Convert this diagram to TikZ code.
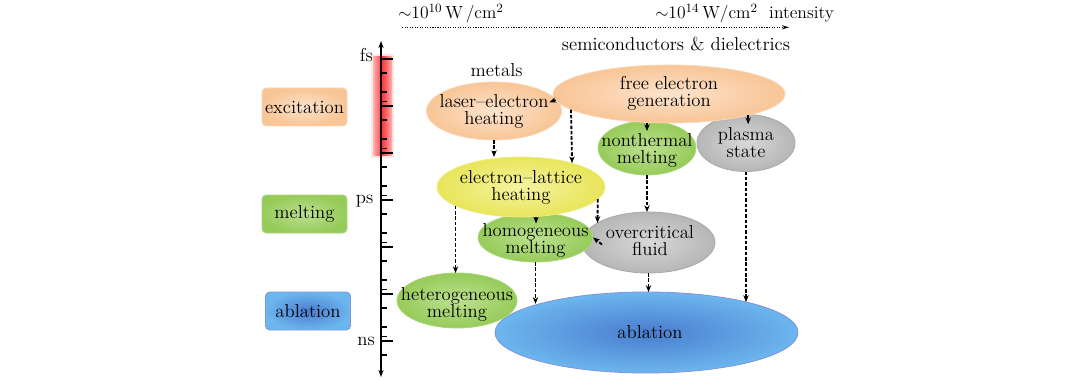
\documentclass[tikz,border=0pt]{standalone}
\usepackage{fontspec}
\usetikzlibrary{shapes.geometric,arrows.meta}
\definecolor{orangeIn}{HTML}{FDE3CC}
\definecolor{orangeOut}{HTML}{F8C596}
\definecolor{orangeBd}{HTML}{F9D6B4}
\definecolor{greenIn}{HTML}{BDE090}
\definecolor{greenOut}{HTML}{96CB5A}
\definecolor{greenBd}{HTML}{A8D678}
\definecolor{blueIn}{HTML}{4A7CCE}
\definecolor{blueOut}{HTML}{6CB6EE}
\definecolor{blueBd}{HTML}{8294DC}
\definecolor{grayIn}{HTML}{D8D8D8}
\definecolor{grayOut}{HTML}{B6B6B6}
\definecolor{grayBd}{HTML}{ABABAB}
\definecolor{yellowIn}{HTML}{F5F3A0}
\definecolor{yellowOut}{HTML}{E8E55A}
\definecolor{yellowBd}{HTML}{EFEC84}
\begin{document}
\begin{tikzpicture}[x=0.025cm,y=-0.025cm,
  ell/.style={ellipse,inner sep=0pt,outer sep=0pt,draw=#1Bd,inner color=#1In,outer color=#1Out,line width=0.6pt},
  sz/.style 2 args={minimum width=#1*0.025cm,minimum height=#2*0.025cm},
  box/.style={rectangle,rounded corners=3pt,inner sep=0pt,draw=#1Bd,inner color=#1In,outer color=#1Out,line width=0.6pt,font=\fontsize{13.3}{12}\selectfont},
  txt/.style={align=center,inner sep=0pt,font=\fontsize{13.3}{12}\selectfont},
  arr/.style={line width=1.3pt,dash pattern=on 2.5pt off 1.3pt,-{Stealth[length=4.8pt,width=3.8pt]}},
  axisline/.style={line width=1.3pt,{Stealth[length=5pt,width=3.6pt]}-{Stealth[length=5pt,width=3.6pt]}},
  tickline/.style={line width=0.9pt},
  dotarr/.style={line width=0.8pt,densely dotted,-{Stealth[length=5pt,width=3pt]}}
]
\path[use as bounding box] (0,0) rectangle (1080,381);

% top intensity axis
\coordinate (dL) at (402,27.3);
\coordinate (dR) at (789,27.3);
\draw[dotarr] (dL) -- (dR);
\node[txt,anchor=base west,font=\fontsize{12.5}{12}\selectfont] (lo) at (398,18.5) {$\sim$10$^{10}$\,W\,/cm$^2$};
\node[txt,anchor=base west,font=\fontsize{12.5}{12}\selectfont] (hi) at (655,18.5) {$\sim$10$^{14}$\,W/cm$^2$\ \ intensity};

% red excitation bar
\fill[red!10] (371,54) rectangle (394,158);
\fill[left color=red!30,right color=red!30,middle color=red!78] (373,57) rectangle (392,155);

% time axis
\coordinate (axT) at (381,41);
\coordinate (axB) at (381,377);
\draw[axisline] (axB) -- (axT);
\foreach \k in {0,...,6}{
  \draw[tickline] (381,{59+47*\k}) -- ++(12,0);
}
\foreach \k in {0,...,5}{
  \foreach \f in {14.1,32.9,42.4}{
    \draw[tickline] (381,{59+47*\k+\f}) -- ++(5.5,0);
  }
}
\draw[tickline] (381,355.1) -- ++(5.5,0);
\node[txt,anchor=base east] (fsL) at (373,61.7) {fs};
\node[txt,anchor=base east] (psL) at (373.5,203.5) {ps};
\node[txt,anchor=base east] (nsL) at (375,345) {ns};

% legend boxes
\node[box=orange,sz={85}{38}] (exc) at (304.5,107) {excitation};
\node[box=green,sz={85}{38}] (mel) at (304.5,214) {melting};
\node[box=blue,sz={85}{38}] (abb) at (308,311) {ablation};

% headings
\node[txt,anchor=base] (semi) at (676,51) {semiconductors \& dielectrics};
\node[txt,anchor=base] (met) at (496.7,76.7) {metals};

% ellipses
\node[ell=blue,sz={303}{81}] (abl) at (646.5,332.5) {};
\node[ell=gray,sz={133}{61}] (ovc) at (648.5,242.5) {};
\node[ell=green,sz={115}{49}] (hom) at (535.5,237.5) {};
\node[ell=green,sz={120}{55}] (het) at (457,300.5) {};
\node[ell=yellow,sz={168}{60}] (elt) at (521,187) {};
\node[ell=green,sz={98}{54}] (nth) at (647,148) {};
\node[ell=gray,sz={98}{57}] (pla) at (746,143) {};
\node[ell=orange,sz={135}{58}] (las) at (494,111) {};
\node[ell=orange,sz={232}{58}] (fre) at (669,94) {};

% texts
\node[txt] (ablT) at (650,332) {ablation};
\node[txt] (ovcT) at (650,241) {overcritical\\fluid};
\node[txt] (homT) at (535.5,240) {homogeneous\\melting};
\node[txt] (hetT) at (457,304) {heterogeneous\\melting};
\node[txt] (eltT) at (521,187) {electron--lattice\\heating};
\node[txt] (nthT) at (647,150) {nonthermal\\melting};
\node[txt] (plaT) at (746,142.5) {plasma\\state};
\node[txt] (lasT) at (494,111) {laser--electron\\heating};
\node[txt] (freT) at (669,93.5) {free electron\\generation};

% connectors
\draw[arr] (fre.183) -- ++(-6,2.5);
\draw[arr] (las.south) -- (las.south |- elt.north);
\draw[arr] (fre.189.9) -- (elt.25.5);
\draw[arr] (fre.south -| nth.north) -- ++(0,8);
\draw[arr] (fre.-15.7) -- ++(0,9);
\draw[arr] (nth.south) -- (nth.south |- ovc.north);
\draw[arr] (elt.-63) -- ++(0,7);
\draw[arr] (elt.196.9) -- (elt.196.9 |- het.north);
\draw[arr] (elt.-9.6) -- (ovc.159.3);
\draw[arr] ([shift={(9,7)}]hom.east) -- (hom.east);
\draw[arr] (hom.south) -- (hom.south |- abl.165.9);
\draw[arr] (ovc.south) -- (ovc.south |- abl.north);
\draw[arr] (pla.south) -- (pla.south |- abl.17);
\end{tikzpicture}
\end{document}
